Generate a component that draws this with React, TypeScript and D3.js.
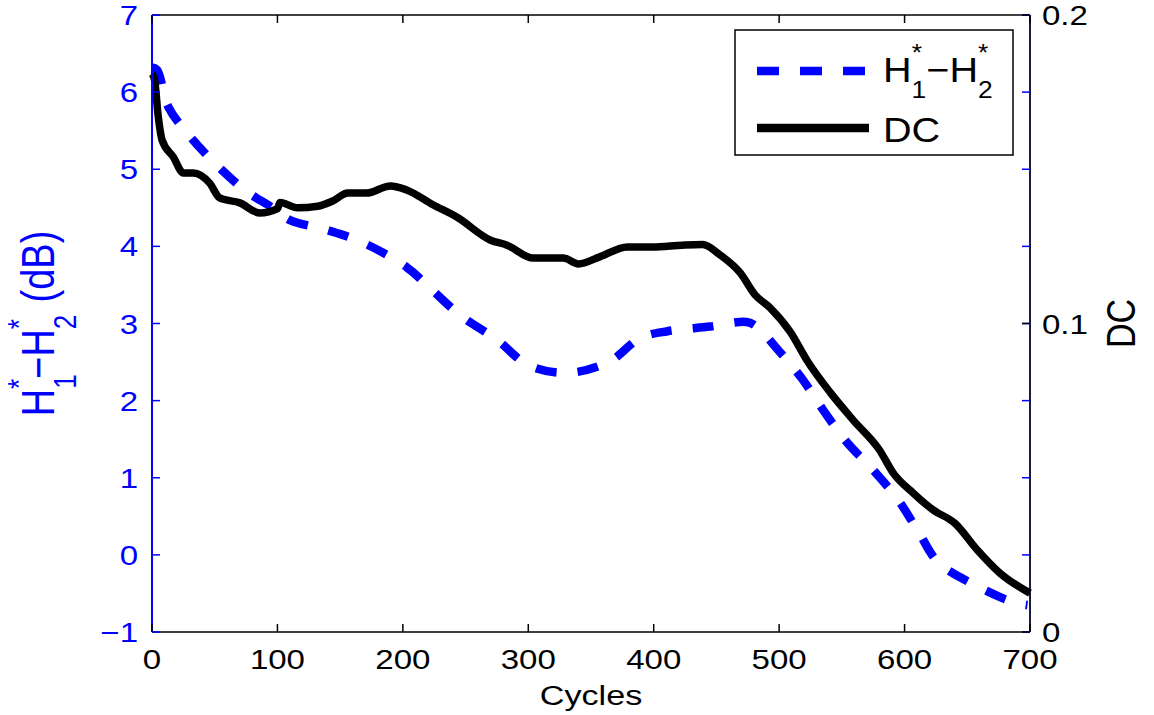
import React from 'react';
import * as d3 from 'd3';

// H1*-H2* (dB), left axis
const h12Cycles = [0, 4, 13, 29, 50, 74, 96, 110, 140, 168, 203, 223, 247, 275, 300, 331, 364, 389, 411, 445, 474, 482, 499, 518, 535, 554, 575, 595, 611, 627, 656, 686, 698];
const h12Values = [6.32, 6.29, 5.81, 5.45, 5.08, 4.73, 4.5, 4.34, 4.21, 4.05, 3.73, 3.44, 3.09, 2.79, 2.46, 2.36, 2.5, 2.81, 2.9, 2.96, 3.02, 2.96, 2.66, 2.29, 1.88, 1.46, 1.1, 0.71, 0.3, -0.1, -0.39, -0.61, -0.65];

// DC, right axis
const dcCycles = [0, 2, 5, 8, 17, 25, 33, 46, 54, 70, 86, 100, 102, 116, 132, 144, 156, 171, 190, 203, 224, 243, 270, 283, 304, 328, 340, 357, 379, 399, 423, 439, 453, 469, 481, 493, 509, 522, 541, 559, 580, 591, 607, 623, 640, 658, 676, 700];
const dcValues = [0.181, 0.179, 0.167, 0.1595, 0.154, 0.1488, 0.1488, 0.1455, 0.1407, 0.1391, 0.1358, 0.1372, 0.1392, 0.1375, 0.138, 0.1397, 0.1423, 0.1423, 0.1446, 0.1433, 0.1385, 0.1345, 0.127, 0.1254, 0.1212, 0.1212, 0.1193, 0.1216, 0.1248, 0.1248, 0.1254, 0.1256, 0.1222, 0.1164, 0.1092, 0.105, 0.0972, 0.0882, 0.0775, 0.0687, 0.059, 0.0515, 0.045, 0.0395, 0.0353, 0.0266, 0.0191, 0.0126];

const xTicks = [0, 100, 200, 300, 400, 500, 600, 700];
const leftTicks = [-1, 0, 1, 2, 3, 4, 5, 6, 7];
const rightLabels = [0, 0.1, 0.2];

const W = 1154, H = 715;
const L = 152, R = 1030, T = 15, B = 632;
const BLUE = '#0000ff';
const FONT = '"Liberation Sans", Arial, Helvetica, sans-serif';
const SX = 1.18;

const x = d3.scaleLinear().domain([0, 700]).range([L, R]);
const yL = d3.scaleLinear().domain([-1, 7]).range([B, T]);
const yR = d3.scaleLinear().domain([0, 0.2]).range([B, T]);

const fmt = (v: number) => (v < 0 ? '\u2212' + Math.abs(v) : String(v));

export default function App() {
  const h12 = h12Cycles.map((c, i) => [c, h12Values[i]] as [number, number]);
  const dc = dcCycles.map((c, i) => [c, dcValues[i]] as [number, number]);
  const blueLine = d3.line<[number, number]>().x(d => x(d[0])).y(d => yL(d[1])).curve(d3.curveCatmullRom)(h12) || '';
  const blackLine = d3.line<[number, number]>().x(d => x(d[0])).y(d => yR(d[1])).curve(d3.curveMonotoneX)(dc) || '';
  const tk = 8;

  return (
    <svg width={W} height={H} style={{ position: 'absolute', left: 0, top: 0, background: '#fff' }} fontFamily={FONT}>
      <rect x={0} y={0} width={W} height={H} fill="#fff" />

      {/* data */}
      <path d={blueLine} fill="none" stroke={BLUE} strokeWidth={8.5} strokeDasharray="21,21" />
      <path d={blackLine} fill="none" stroke="#000" strokeWidth={7.5} strokeLinejoin="round" />

      {/* frame */}
      <line x1={L} x2={R} y1={T} y2={T} stroke="#000" strokeWidth={1.5} />
      <line x1={L} x2={R} y1={B} y2={B} stroke="#000" strokeWidth={1.5} />
      <line x1={R} x2={R} y1={T} y2={B} stroke="#000033" strokeWidth={1.8} />
      <line x1={L} x2={L} y1={T} y2={B} stroke={BLUE} strokeWidth={2} />

      {/* x ticks */}
      {xTicks.map(t => (
        <g key={'x' + t}>
          <line x1={x(t)} x2={x(t)} y1={B} y2={B - tk} stroke="#000" strokeWidth={1.5} />
          <line x1={x(t)} x2={x(t)} y1={T} y2={T + tk} stroke="#000" strokeWidth={1.5} />
          <text transform={`translate(${x(t)},669) scale(${SX},1)`} textAnchor="middle" fontSize={28} fill="#000">{t}</text>
        </g>
      ))}

      {/* left ticks, mirrored on right */}
      {leftTicks.map(t => (
        <g key={'l' + t}>
          <line x1={L} x2={L + tk} y1={yL(t)} y2={yL(t)} stroke={BLUE} strokeWidth={1.5} />
          <line x1={R} x2={R - tk} y1={yL(t)} y2={yL(t)} stroke={BLUE} strokeWidth={1.5} />
          <text transform={`translate(138,${yL(t) + 10}) scale(${SX},1)`} textAnchor="end" fontSize={28} fill={BLUE}>{fmt(t)}</text>
        </g>
      ))}

      {/* right labels */}
      {rightLabels.map(t => (
        <g key={'r' + t}>
          <line x1={R} x2={R - tk} y1={yR(t)} y2={yR(t)} stroke="#000" strokeWidth={1.5} />
          <text transform={`translate(1042,${yR(t) + 10}) scale(${SX},1)`} fontSize={28} fill="#000">{t}</text>
        </g>
      ))}

      {/* axis titles */}
      <text transform={`translate(${(L + R) / 2},705) scale(1.22,1)`} textAnchor="middle" fontSize={28} fill="#000">Cycles</text>
      <text transform={`translate(1135,${(T + B) / 2}) scale(1.2,1) rotate(-90)`} textAnchor="middle" fontSize={34} fill="#000">DC</text>
      <text transform={`translate(54,${(T + B) / 2}) scale(1.2,1) rotate(-90)`} textAnchor="middle" fontSize={38} fill={BLUE}>
        H
        <tspan fontSize={26} dy={18}>1</tspan>
        <tspan fontSize={26} dx={-14.5} dy={-38}>*</tspan>
        <tspan dy={20}>{'\u2212'}H</tspan>
        <tspan fontSize={26} dy={18}>2</tspan>
        <tspan fontSize={26} dx={-14.5} dy={-38}>*</tspan>
        <tspan dx={6} dy={20}> (dB)</tspan>
      </text>

      {/* legend */}
      <rect x={735} y={30} width={278} height={125} fill="#fff" stroke="#000" strokeWidth={1.5} />
      <line x1={757} x2={867} y1={71} y2={71} stroke={BLUE} strokeWidth={8.5} strokeDasharray="22,21" />
      <line x1={757} x2={869} y1={128} y2={128} stroke="#000" strokeWidth={8.5} />
      <text transform="translate(883,82) scale(1.1,1)" fontSize={36} fill="#000">
        H
        <tspan fontSize={24} dy={16}>1</tspan>
        <tspan fontSize={24} dx={-13.3} dy={-37}>*</tspan>
        <tspan dx={4} dy={21}>{'\u2212'}H</tspan>
        <tspan fontSize={24} dy={16}>2</tspan>
        <tspan fontSize={24} dx={-13.3} dy={-37}>*</tspan>
      </text>
      <text transform="translate(883,142) scale(1.1,1)" fontSize={36} fill="#000">DC</text>
    </svg>
  );
}
